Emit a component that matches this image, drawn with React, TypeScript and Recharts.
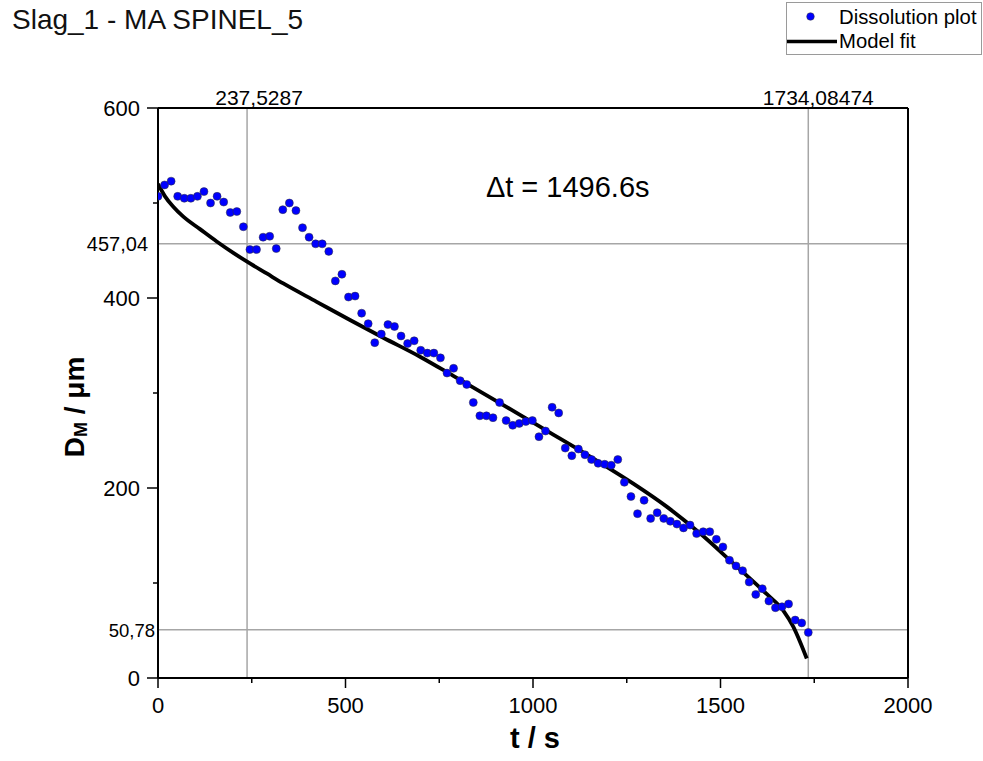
import React from 'react';
import {
  ComposedChart,
  Scatter,
  Line,
  XAxis,
  YAxis,
  ReferenceLine,
  ReferenceDot,
  Legend,
} from 'recharts';

const FONT = '"Liberation Sans", Arial, Helvetica, sans-serif';

// ---- data ----
const chartTitle = 'Slag_1 - MA SPINEL_5';
const deltaLabel = 'Δt = 1496.6s';
const seriesNames = ['Dissolution plot', 'Model fit'];

const timeS = [
  0, 17.5, 35.0, 52.5, 70.1, 87.6, 105.1, 122.6, 140.1, 157.6,
  175.2, 192.7, 210.2, 227.7, 245.2, 262.7, 280.3, 297.8, 315.3, 332.8,
  350.3, 367.8, 385.4, 402.9, 420.4, 437.9, 455.4, 472.9, 490.4, 508.0,
  525.5, 543.0, 560.5, 578.0, 595.5, 613.1, 630.6, 648.1, 665.6, 683.1,
  700.6, 718.2, 735.7, 753.2, 770.7, 788.2, 805.7, 823.3, 840.8, 858.3,
  875.8, 893.3, 910.8, 928.3, 945.9, 963.4, 980.9, 998.4, 1015.9, 1033.4,
  1051.0, 1068.5, 1086.0, 1103.5, 1121.0, 1138.5, 1156.1, 1173.6, 1191.1, 1208.6,
  1226.1, 1243.6, 1261.2, 1278.7, 1296.2, 1313.7, 1331.2, 1348.7, 1366.2, 1383.8,
  1401.3, 1418.8, 1436.3, 1453.8, 1471.3, 1488.9, 1506.4, 1523.9, 1541.4, 1558.9,
  1576.4, 1594.0, 1611.5, 1629.0, 1646.5, 1664.0, 1681.5, 1699.1, 1716.6, 1734.1,
];

const diameterUm = [
  507, 519, 523, 507, 505, 505, 507, 512, 500, 507,
  501, 490, 491, 475, 451, 451, 464, 465, 452, 493,
  500, 492, 474, 464, 457, 457, 449, 418, 425, 401,
  402, 384, 373, 353, 362, 372, 370, 360, 352, 355,
  345, 342, 342, 337, 321, 326, 313, 309, 290, 276,
  276, 274, 290, 271, 266, 268, 270, 271, 254, 260,
  285, 279, 242, 234, 241, 235, 230, 226, 225, 224,
  230, 206, 191, 173, 187, 168, 174, 168, 165, 162,
  158, 161, 152, 154, 154, 146, 138, 124, 118, 113,
  101, 88, 94, 81, 74, 75, 78, 61, 58, 48,
];

const modelTimeS = [
  0, 18.7, 40.8, 67.5, 112, 156.5, 200.8, 236.5, 289.9, 334.1,
  423.2, 512, 600.8, 698.7, 787.5, 876.5, 965.3, 1054, 1116.5, 1178.7,
  1267.5, 1356.5, 1445.3, 1534, 1623, 1667.5, 1694, 1712, 1730,
];

const modelDiameterUm = [
  520, 507, 496, 485.6, 472.5, 459.5, 447.5, 438.5, 425.8, 415.3,
  396, 376.8, 358.2, 338.2, 318, 297.6, 277, 256.2, 241.6, 226.6,
  204.6, 180.4, 152.3, 120.7, 88.5, 71, 54, 38.2, 20.5,
];

const xTicks = [0, 250, 500, 750, 1000, 1250, 1500, 1750, 2000];
const xLabelTicks = [0, 500, 1000, 1500, 2000];
const yTicks = [0, 100, 200, 300, 400, 500, 600];
const yLabelTicks = [0, 200, 400, 600];

const markerTimes = [237.5287, 1734.08474];
const markerTimeLabels = ['237,5287', '1734,08474'];
const markerDiameters = [457.04, 50.78];
const markerDiameterLabels = ['457,04', '50,78'];
const markerDiameterFont = [20, 18.5];

const deltaAnchor = { t: 877, d: 505 };

const scatterData = timeS.map((t, i) => ({ t, d: diameterUm[i] }));
const modelData = modelTimeS.map((t, i) => ({ t, m: modelDiameterUm[i] }));

// ---- renderers ----
const XTick = (props: any) => {
  const { x, y, payload } = props;
  const major = xLabelTicks.includes(payload.value);
  return (
    <g>
      <line x1={x} y1={y} x2={x} y2={y + (major ? 10 : 5)} stroke="#000" strokeWidth={1.5} />
      {major && (
        <text x={x} y={y + 35} textAnchor="middle" fontSize={22} fontFamily={FONT} fill="#000">
          {payload.value}
        </text>
      )}
    </g>
  );
};

const YTick = (props: any) => {
  const { x, y, payload } = props;
  const major = yLabelTicks.includes(payload.value);
  return (
    <g>
      <line x1={x} y1={y} x2={x - (major ? 11 : 5)} y2={y} stroke="#000" strokeWidth={1.5} />
      {major && (
        <text x={x - 18} y={y + 8} textAnchor="end" fontSize={22} fontFamily={FONT} fill="#000">
          {payload.value}
        </text>
      )}
    </g>
  );
};

const LegendBox = () => (
  <svg width={197} height={54} style={{ display: 'block' }}>
    <rect x={0.5} y={0.5} width={195} height={52} fill="#fff" stroke="#9a9a9a" strokeWidth={1} />
    <circle cx={24.5} cy={14.5} r={3.8} fill="#0000ff" stroke="#333" strokeWidth={0.5} />
    <text x={53} y={22} fontSize={20.3} fontFamily={FONT} fill="#000">
      {seriesNames[0]}
    </text>
    <line x1={1} y1={39.5} x2={51} y2={39.5} stroke="#000" strokeWidth={3.4} />
    <text x={53} y={46} fontSize={20.3} fontFamily={FONT} fill="#000">
      {seriesNames[1]}
    </text>
  </svg>
);

export default function App() {
  return (
    <div style={{ position: 'absolute', left: 0, top: 0, width: 983, height: 761, background: '#fff' }}>
      <ComposedChart
        width={983}
        height={761}
        margin={{ top: 108, right: 75, bottom: 0, left: 58 }}
      >
        <text x={12} y={29} fontSize={28} fontFamily={FONT} fill="#111">
          {chartTitle}
        </text>
        <XAxis
          type="number"
          dataKey="t"
          domain={[0, 2000]}
          ticks={xTicks}
          interval={0}
          allowDataOverflow
          height={83}
          tickSize={0}
          tickMargin={0}
          tickLine={false}
          axisLine={{ stroke: '#000', strokeWidth: 2 }}
          tick={<XTick />}
          label={(p: any) => {
            const vb = p.viewBox;
            return (
              <text
                x={vb.x + vb.width / 2 + 2}
                y={vb.y + 70}
                textAnchor="middle"
                fontSize={29}
                fontWeight="bold"
                fontFamily={FONT}
                fill="#000"
              >
                t / s
              </text>
            );
          }}
        />
        <YAxis
          type="number"
          domain={[0, 600]}
          ticks={yTicks}
          interval={0}
          allowDataOverflow
          width={100}
          tickSize={0}
          tickMargin={0}
          tickLine={false}
          axisLine={{ stroke: '#000', strokeWidth: 2 }}
          tick={<YTick />}
          label={(p: any) => {
            const vb = p.viewBox;
            const cx = vb.x + 26;
            const cy = vb.y + vb.height / 2 + 14;
            return (
              <text
                x={cx}
                y={cy}
                transform={`rotate(-90 ${cx} ${cy})`}
                textAnchor="middle"
                fontSize={28}
                fontWeight="bold"
                fontFamily={FONT}
                fill="#000"
              >
                D
                <tspan fontSize={18} dy={3}>M</tspan>
                <tspan dy={-3}> / μm</tspan>
              </text>
            );
          }}
        />
        {markerDiameters.map((d, i) => (
          <ReferenceLine
            key={`h${i}`}
            y={d}
            stroke="#a6a6a6"
            strokeWidth={1.5}
            label={(p: any) => {
              const vb = p.viewBox;
              return (
                <text
                  x={vb.x - (i === 0 ? 10 : 3)}
                  y={vb.y + 7}
                  textAnchor="end"
                  fontSize={markerDiameterFont[i]}
                  fontFamily={FONT}
                  fill="#000"
                >
                  {markerDiameterLabels[i]}
                </text>
              );
            }}
          />
        ))}
        {markerTimes.map((t, i) => (
          <ReferenceLine
            key={`v${i}`}
            x={t}
            stroke="#a6a6a6"
            strokeWidth={1.5}
            label={(p: any) => {
              const vb = p.viewBox;
              return (
                <text
                  x={vb.x + (i === 0 ? 12 : 10)}
                  y={vb.y - 3}
                  textAnchor="middle"
                  fontSize={21}
                  fontFamily={FONT}
                  fill="#000"
                >
                  {markerTimeLabels[i]}
                </text>
              );
            }}
          />
        ))}
        <ReferenceLine y={600} stroke="#000" strokeWidth={2} />
        <ReferenceLine x={2000} stroke="#000" strokeWidth={2} />
        <ReferenceDot
          x={deltaAnchor.t}
          y={deltaAnchor.d}
          r={1}
          fill="none"
          stroke="none"
          label={(p: any) => {
            const vb = p.viewBox;
            return (
              <text x={vb.x} y={vb.y} fontSize={29} fontFamily={FONT} fill="#000">
                {deltaLabel}
              </text>
            );
          }}
        />
        <Scatter
          name={seriesNames[0]}
          data={scatterData}
          dataKey="d"
          fill="#0000ff"
          isAnimationActive={false}
          shape={(p: any) => (
            <circle cx={p.cx} cy={p.cy} r={4} fill="#0000ff" stroke="#333" strokeWidth={0.5} />
          )}
        />
        <Line
          name={seriesNames[1]}
          data={modelData}
          dataKey="m"
          type="monotone"
          stroke="#000"
          strokeWidth={3.8}
          dot={false}
          activeDot={false}
          isAnimationActive={false}
        />
        <Legend
          layout="horizontal"
          verticalAlign="middle"
          align="center"
          wrapperStyle={{ position: 'absolute', left: 786, top: 2, width: 197, height: 54 }}
          content={() => <LegendBox />}
        />
      </ComposedChart>
    </div>
  );
}
